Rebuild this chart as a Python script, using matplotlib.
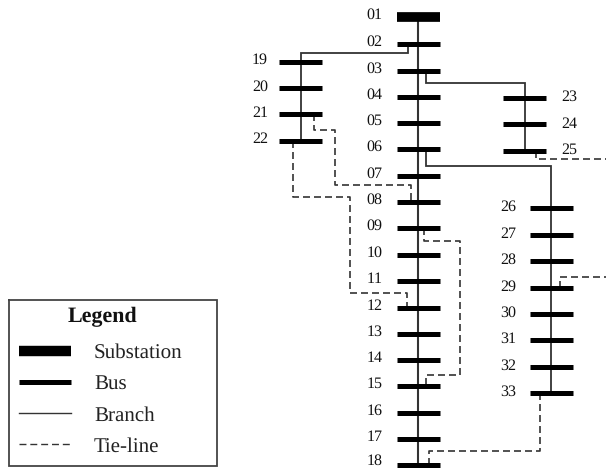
import matplotlib
matplotlib.use('Agg')
import matplotlib.pyplot as plt

plt.rcParams['font.family'] = ['Liberation Serif', 'DejaVu Serif']
plt.rcParams['text.hinting'] = 'none'
plt.rcParams['text.hinting_factor'] = 1

# bus levels in pixels (y grows downwards)
main_names = ['01', '02', '03', '04', '05', '06', '07', '08', '09', '10', '11', '12', '13', '14', '15', '16', '17', '18']
main_y = [17, 44, 71, 96.5, 123, 149, 175.5, 202, 228, 254.7, 281, 307.5, 334, 360, 386, 413, 439, 465]
left_names = ['19', '20', '21', '22']
left_y = [61.5, 88, 114, 140.5]
top_names = ['23', '24', '25']
top_y = [97.7, 124, 150.5]
right_names = ['26', '27', '28', '29', '30', '31', '32', '33']
right_y = [208, 235, 261, 287.5, 314, 340, 366.5, 393]

main_x = 418
left_x = 300.5
top_x = 524.5
right_x = 551

branch_lines = [
    ([408, 408, left_x, left_x], [44, 52.5, 52.5, 140.5]),
    ([425.5, 425.5, top_x, top_x], [71, 83, 83, 150.5]),
    ([425.5, 425.5, right_x, right_x], [149, 166, 166, 393]),
]
tie_lines = [
    ([313.5, 313.5, 335, 335, 410.5, 410.5], [114, 130, 130, 184.5, 184.5, 202]),
    ([293, 293, 350, 350, 407, 407], [140.5, 197, 197, 293, 293, 307.5]),
    ([424, 424, 460, 460, 425.5, 425.5], [228, 241, 241, 375, 375, 386]),
    ([535.5, 535.5, 606], [150.5, 159, 159]),
    ([560, 560, 606], [287.5, 277, 277]),
    ([540, 540, 429, 429], [393, 450.5, 450.5, 465]),
]

legend_labels = ['Substation', 'Bus', 'Branch', 'Tie-line']
legend_y = [351, 382, 414, 445]

W, H = 606, 468
fig = plt.figure(figsize=(W / 100, H / 100), dpi=100)
ax = fig.add_axes([0, 0, 1, 1])
ax.set_xlim(0, W)
ax.set_ylim(H, 0)
ax.axis('off')

FS = 11.5
BUS_LW = 3.6
LINE_COL = '#333333'
TIE_DASH = (0, (4.2, 2.4))


def draw_bus(x, ys, half=21.5):
    for y in ys:
        ax.plot([x - half, x + half], [y, y], color='black', lw=BUS_LW, solid_capstyle='butt', zorder=3)


# trunks
ax.plot([main_x, main_x], [main_y[0], main_y[-1]], color=LINE_COL, lw=1.5, zorder=2)
for xs, ys in branch_lines:
    ax.plot(xs, ys, color=LINE_COL, lw=1.3, solid_joinstyle='miter', zorder=2)
for xs, ys in tie_lines:
    ax.plot(xs, ys, color=LINE_COL, lw=1.2, ls=TIE_DASH, zorder=2)

draw_bus(main_x, main_y[1:], half=21.5)
ax.plot([main_x - 21.5, main_x + 21.5], [main_y[0], main_y[0]], color='black', lw=7, solid_capstyle='butt', zorder=3)
draw_bus(left_x, left_y)
draw_bus(top_x, top_y)
draw_bus(right_x, right_y)

# bus numbers, the last one kept clear of the bottom edge
for name, y in zip(main_names, main_y):
    ax.text(374.5, min(y - 3.5, 459), name, fontsize=FS, ha='center', va='center_baseline', color='#111111')
for name, y in zip(left_names, left_y):
    ax.text(260, y - 3, name, fontsize=FS, ha='center', va='center_baseline', color='#111111')
for name, y in zip(top_names, top_y):
    ax.text(569, y - 2, name, fontsize=FS, ha='center', va='center_baseline', color='#111111')
for name, y in zip(right_names, right_y):
    ax.text(508, y - 2.5, name, fontsize=FS, ha='center', va='center_baseline', color='#111111')

# legend box
ax.plot([8.5, 217, 217, 8.5, 8.5], [300, 300, 465.5, 465.5, 300], color='#444444', lw=1.3, solid_joinstyle='miter')
ax.text(102, 315, 'Legend', fontsize=15.5, fontweight='bold', ha='center', va='center_baseline', color='#111111')
ax.plot([19, 71], [351, 351], color='black', lw=7.5, solid_capstyle='butt')
ax.plot([19, 71], [382, 382], color='black', lw=3.6, solid_capstyle='butt')
ax.plot([19, 71], [413, 413], color=LINE_COL, lw=1.0)
ax.plot([19, 71], [444, 444], color=LINE_COL, lw=1.0, ls=(0, (5, 2.8)))
for label, y in zip(legend_labels, legend_y):
    ax.text(94, y, label, fontsize=15, ha='left', va='center_baseline', color='#222222')

fig.savefig('out.png', dpi=100)
